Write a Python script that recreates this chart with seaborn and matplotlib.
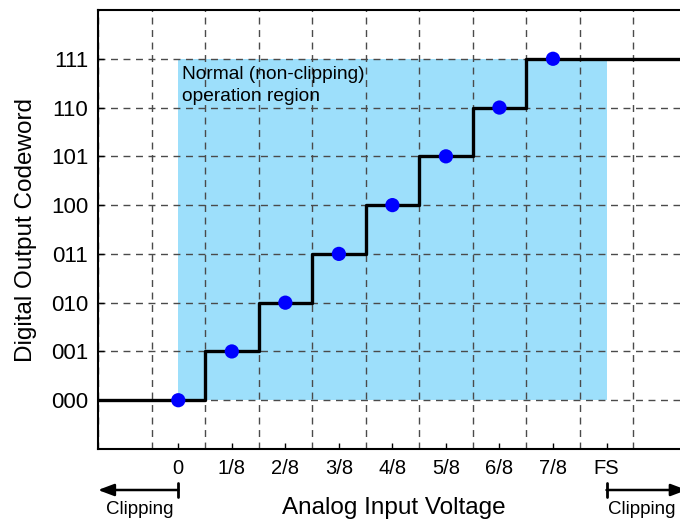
import matplotlib
matplotlib.use("Agg")
import matplotlib.pyplot as plt
import matplotlib.transforms as mtransforms
import seaborn as sns
import numpy as np
import pandas as pd

# ---- data ----
codewords = ["000", "001", "010", "011", "100", "101", "110", "111"]
x_tick_labels = ["0", "1/8", "2/8", "3/8", "4/8", "5/8", "6/8", "7/8", "FS"]
input_steps = [0, 1, 2, 3, 4, 5, 6, 7]          # input voltage in units of FS/8
output_codes = [0, 1, 2, 3, 4, 5, 6, 7]         # output code index
normal_region_x = [0, 8]                          # 0 .. FS
x_limits = (-1.5, 9.5)
y_limits = (-1, 8)

sns.set_theme(style="white")
plt.rcParams["font.family"] = ["Liberation Sans", "DejaVu Sans"]
plt.rcParams["text.color"] = "black"
plt.rcParams["axes.labelcolor"] = "black"
plt.rcParams["xtick.color"] = "black"
plt.rcParams["ytick.color"] = "black"

fig = plt.figure(figsize=(6.8, 5.21), dpi=100)
ax = fig.add_axes([98/680, 72/521, 1 - 98/680 + 0.01, (449-10)/521])

# normal region
ax.fill_between(normal_region_x, output_codes[0], output_codes[-1],
                color="#9DDFFB", lw=0, zorder=0)

# step transfer curve
step_x = [x_limits[0]] + input_steps + [x_limits[1]]
step_y = [output_codes[0]] + output_codes + [output_codes[-1]]
df_step = pd.DataFrame({"x": step_x, "y": step_y})
sns.lineplot(data=df_step, x="x", y="y", ax=ax, drawstyle="steps-mid",
             color="black", lw=2.4, zorder=3, sort=False)

# ideal points
df_pts = pd.DataFrame({"x": input_steps, "y": output_codes})
sns.scatterplot(data=df_pts, x="x", y="y", ax=ax, color="#0000FF",
                s=105, edgecolor="none", zorder=4)

ax.set_xlim(*x_limits)
ax.set_ylim(*y_limits)

ax.set_xticks(range(len(x_tick_labels)))
ax.set_xticklabels(x_tick_labels, fontsize=14.5)
ax.set_xticks(np.arange(-1, 10) - 0.5, minor=True)
ax.set_yticks(range(len(codewords)))
ax.set_yticklabels(codewords, fontsize=16)

ax.tick_params(axis="x", which="major", direction="in", length=4, width=1,
               color="black", pad=7, bottom=True)
ax.tick_params(axis="y", which="major", direction="in", length=4, width=1,
               color="black", pad=7, left=True)
ax.tick_params(axis="x", which="minor", length=0)

ax.grid(False)
ax.grid(True, axis="x", which="minor", color="#4a4a4a", ls=(0, (5, 4)), lw=1)
ax.grid(True, axis="y", which="major", color="#4a4a4a", ls=(0, (5, 4)), lw=1)
ax.set_axisbelow("line")

for s in ["left", "bottom", "top"]:
    ax.spines[s].set_color("black")
    ax.spines[s].set_linewidth(1.5)
ax.spines["right"].set_visible(False)

ax.set_ylabel("Digital Output Codeword", fontsize=17.5, labelpad=10)
ax.set_xlabel("")

fig.text((178 + 603) / 2 / 680 + 0.005, 1 - 508/521, "Analog Input Voltage",
         fontsize=17.5, ha="center", va="center")

ax.text(0.07, 6.86, "Normal (non-clipping)\noperation region", fontsize=13.8,
        ha="left", va="top", zorder=5, linespacing=1.4)

# clipping arrows
arrow_y = 1 - 490/521
bar_half = 7 / 521
blend = mtransforms.blended_transform_factory(ax.transData, fig.transFigure)
for x_end, x_start in [(x_limits[0], normal_region_x[0]), (x_limits[1], normal_region_x[1])]:
    ax.annotate("", xy=(x_end, arrow_y), xytext=(x_start, arrow_y),
                xycoords=("data", "figure fraction"), textcoords=("data", "figure fraction"),
                arrowprops=dict(arrowstyle="-|>,head_length=0.8,head_width=0.3",
                                color="black", lw=1.8, shrinkA=0, shrinkB=0),
                annotation_clip=False)
    ax.plot([x_start, x_start], [arrow_y - bar_half, arrow_y + bar_half],
            transform=blend, color="black", lw=2, clip_on=False)
fig.text(140/680, 1 - 509/521, "Clipping", fontsize=13.5, ha="center", va="center")
fig.text(642/680, 1 - 509/521, "Clipping", fontsize=13.5, ha="center", va="center")

fig.savefig("out.png", dpi=100)
